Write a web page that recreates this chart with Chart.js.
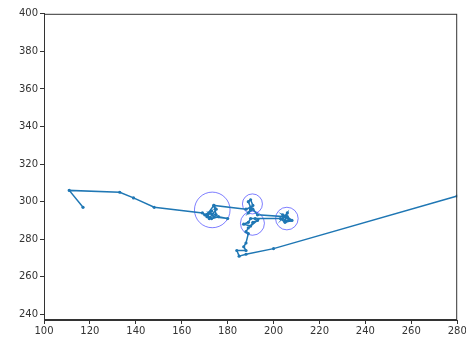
<!DOCTYPE html>
<html>
<head>
<meta charset="utf-8">
<script src="https://cdn.jsdelivr.net/npm/chart.js@4/dist/chart.umd.min.js"></script>
<style>
html,body{margin:0;padding:0;background:#fff;overflow:hidden;width:466px;height:345px;}
body{position:relative;}
#wrap{width:476px;height:350px;position:absolute;left:0;top:-5px;}
</style>
</head>
<body>
<div id="wrap"><canvas id="c"></canvas></div>
<script>

// track (x, y)
const trackX=[
    117,111,133,139,148,169,171,173,170,172,175,174,171,173,176,180,174,172,175,
    174,188,190,189,190,191,190,189,191,193,205,204,206,205,207,204,206,208,205,203,
    192,190,189,187,190,191,193,189,188,189,188,187,188,184,185,188,200,280
];
const trackY=[
    297,306,305,302,297,294,292,295,293,291,296,298,293,291,292,291,292,294,293,
    298,296,297,300,301,298,296,294,296,293,292,291,294,290,290,293,292,290,289,291,
    291,291,289,288,287,289,290,286,284,283,278,276,274,274,271,272,275,303
];

// circles: centre and radius (px)
const circleX=[173.3,190.8,190.8,205.8];
const circleY=[295.6,298.8,288.5,291];
const circleR=[17.8,10,12,11.3];

const xTicks={min:100,max:280,step:20};
const yTicks={min:237,max:400,step:20};


const frame={
    id:"frame",
    afterDatasetsDraw(chart){
        let a=chart.chartArea;
        let ctx=chart.ctx;
        ctx.save();
        ctx.strokeStyle="#333";
        ctx.lineWidth=1;
        ctx.strokeRect(a.left+0.5,a.top+0.5,a.right-a.left-1,a.bottom-a.top-1);
        ctx.restore();
    }
};

new Chart(
    document.getElementById("c"),
    {
        type:"scatter",
        data:{
            datasets:[
                {
                    data:trackX.map((x,i)=>({x:x,y:trackY[i]})),
                    showLine:true,
                    borderColor:"#1f77b4",
                    backgroundColor:"#1f77b4",
                    borderWidth:1.5,
                    pointRadius:1.6,
                    pointBorderWidth:0,
                    tension:0
                },
                {
                    data:circleX.map((x,i)=>({x:x,y:circleY[i]})),
                    showLine:false,
                    pointRadius:circleR,
                    borderColor:"rgba(40,40,255,0.6)",
                    backgroundColor:"rgba(0,0,0,0)",
                    pointBorderWidth:1
                }
            ]
        },
        options:{
            responsive:true,
            maintainAspectRatio:false,
            animation:false,
            layout:{
                padding:{left:0,right:0,top:7,bottom:0}
            },
            plugins:{
                legend:{display:false},
                tooltip:{enabled:false}
            },
            scales:{
                x:{
                    type:"linear",
                    min:xTicks.min,
                    max:xTicks.max,
                    afterFit:s=>{s.height=25;},
                    grid:{drawOnChartArea:false,tickLength:4,color:"#333"},
                    border:{color:"#333"},
                    ticks:{
                        stepSize:xTicks.step,
                        includeBounds:false,
                        padding:1,
                        color:"#333",
                        maxRotation:0,
                        font:{family:"DejaVu Sans",size:10}
                    }
                },
                y:{
                    type:"linear",
                    min:yTicks.min,
                    max:yTicks.max,
                    afterFit:s=>{s.width=44;},
                    grid:{drawOnChartArea:false,tickLength:4,color:"#333"},
                    border:{color:"#333"},
                    ticks:{
                        stepSize:yTicks.step,
                        includeBounds:false,
                        padding:2,
                        color:"#333",
                        font:{family:"DejaVu Sans",size:10}
                    }
                }
            }
        },
        plugins:[frame]
    }
);
</script>
</body>
</html>
